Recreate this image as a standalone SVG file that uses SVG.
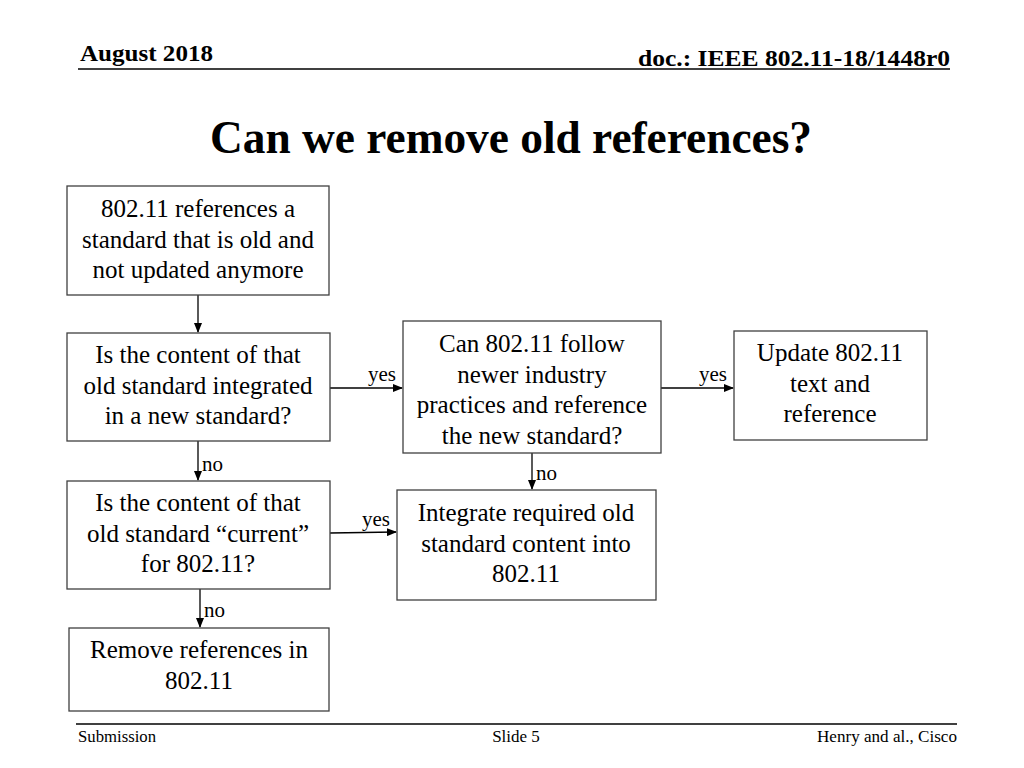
<svg xmlns="http://www.w3.org/2000/svg" width="1024" height="768" viewBox="0 0 1024 768">
<defs>
<marker id="ah" markerWidth="10" markerHeight="8" refX="9" refY="4" orient="auto" markerUnits="userSpaceOnUse">
<path d="M0,0 L10,4 L0,8 Z" fill="#000"/>
</marker>
<style>
.box{fill:#fff;stroke:#404040;stroke-width:1.3}
.t{font-family:"Liberation Serif","Times New Roman",serif;font-size:25px;fill:#000;text-anchor:middle}
.lbl{font-family:"Liberation Serif","Times New Roman",serif;font-size:21px;fill:#000}
.c{stroke:#000;stroke-width:1.3;fill:none;marker-end:url(#ah)}
.hdr{font-family:"Liberation Serif","Times New Roman",serif;font-weight:bold;font-size:24px;fill:#000}
.ftr{font-family:"Liberation Serif","Times New Roman",serif;font-size:17px;fill:#000}
</style>
</defs>
<rect width="1024" height="768" fill="#fff"/>
<g id="header">
<text class="hdr" x="80" y="61" textLength="133" lengthAdjust="spacingAndGlyphs">August 2018</text>
<text class="hdr" x="638" y="66" textLength="312" lengthAdjust="spacingAndGlyphs">doc.: IEEE 802.11-18/1448r0</text>
<line x1="78" y1="69" x2="950" y2="69" stroke="#000" stroke-width="1.5"/>
</g>
<text id="title" x="511" y="153" text-anchor="middle" font-family="'Liberation Serif','Times New Roman',serif" font-weight="bold" font-size="46" textLength="602" lengthAdjust="spacingAndGlyphs">Can we remove old references?</text>
<g id="connectors">
<line class="c" x1="198" y1="295" x2="198" y2="332"/>
<line class="c" x1="330" y1="388" x2="402" y2="388"/>
<line class="c" x1="661" y1="388" x2="733" y2="388"/>
<line class="c" x1="198" y1="441" x2="198" y2="480"/>
<line class="c" x1="532" y1="453" x2="532" y2="489"/>
<line class="c" x1="330" y1="533" x2="396" y2="532"/>
<line class="c" x1="200" y1="589" x2="200" y2="627"/>
<text class="lbl" x="368" y="381">yes</text>
<text class="lbl" x="699" y="381">yes</text>
<text class="lbl" x="202" y="471">no</text>
<text class="lbl" x="536" y="480">no</text>
<text class="lbl" x="362" y="526">yes</text>
<text class="lbl" x="204" y="617">no</text>
</g>
<g id="n1">
<rect class="box" x="67" y="186" width="262" height="109"/>
<text class="t" x="198" y="217">802.11 references a</text>
<text class="t" x="198" y="248">standard that is old and</text>
<text class="t" x="198" y="278">not updated anymore</text>
</g>
<g id="n2">
<rect class="box" x="67" y="333" width="263" height="108"/>
<text class="t" x="198" y="363">Is the content of that</text>
<text class="t" x="198" y="394">old standard integrated</text>
<text class="t" x="198" y="424">in a new standard?</text>
</g>
<g id="n3">
<rect class="box" x="403" y="321" width="258" height="132"/>
<text class="t" x="532" y="352">Can 802.11 follow</text>
<text class="t" x="532" y="383">newer industry</text>
<text class="t" x="532" y="413">practices and reference</text>
<text class="t" x="532" y="444">the new standard?</text>
</g>
<g id="n4">
<rect class="box" x="734" y="331" width="193" height="109"/>
<text class="t" x="830" y="361">Update 802.11</text>
<text class="t" x="830" y="392">text and</text>
<text class="t" x="830" y="422">reference</text>
</g>
<g id="n5">
<rect class="box" x="67" y="481" width="263" height="108"/>
<text class="t" x="198" y="511">Is the content of that</text>
<text class="t" x="198" y="542">old standard “current”</text>
<text class="t" x="198" y="572">for 802.11?</text>
</g>
<g id="n6">
<rect class="box" x="397" y="490" width="259" height="110"/>
<text class="t" x="526" y="521">Integrate required old</text>
<text class="t" x="526" y="552">standard content into</text>
<text class="t" x="526" y="582">802.11</text>
</g>
<g id="n7">
<rect class="box" x="69" y="628" width="260" height="83"/>
<text class="t" x="199" y="658">Remove references in</text>
<text class="t" x="199" y="689">802.11</text>
</g>
<g id="footer">
<line x1="76" y1="724" x2="957" y2="724" stroke="#000" stroke-width="1.5"/>
<text class="ftr" x="78" y="742" textLength="78" lengthAdjust="spacingAndGlyphs">Submission</text>
<text class="ftr" x="516" y="742" text-anchor="middle">Slide 5</text>
<text class="ftr" x="817" y="742" textLength="140" lengthAdjust="spacingAndGlyphs">Henry and al., Cisco</text>
</g>
</svg>
